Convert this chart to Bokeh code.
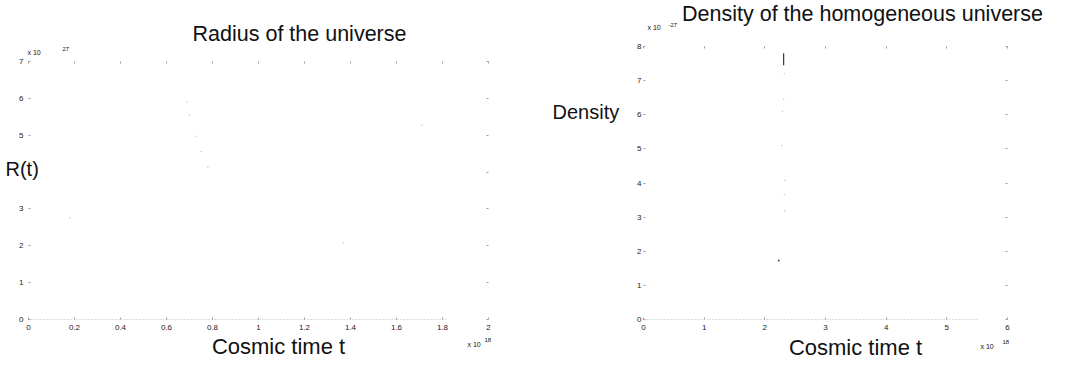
from bokeh.plotting import figure
from bokeh.layouts import row, column
from bokeh.models import Range1d, LinearAxis, Label, FixedTicker, Spacer
from bokeh.embed import file_html
from bokeh.resources import INLINE

# ---------- Radius plot (t in units of 1e18, R in units of 1e27) ----------
radius_xticks = [0, 0.2, 0.4, 0.6, 0.8, 1, 1.2, 1.4, 1.6, 1.8, 2]
radius_xlabels = ["0", "0.2", "0.4", "0.6", "0.8", "1", "1.2", "1.4", "1.6", "1.8", "2"]
radius_yticks = [0, 1, 2, 3, 4, 5, 6, 7]
radius_ylabels = ["0", "1", "2", "3", "", "5", "6", "7"]
radius_base_t = [0.0, 1.82]
radius_base_R = [0.0, 0.0]
radius_trace_t = [0.69, 0.70, 0.73, 0.75, 0.78, 0.18, 1.37, 1.71]
radius_trace_R = [5.9, 5.55, 4.97, 4.56, 4.13, 2.76, 2.08, 5.27]

# ---------- Density plot (t in units of 1e18, rho in units of 1e-27) ----------
density_xticks = [0, 1, 2, 3, 4, 5, 6]
density_xlabels = ["0", "1", "2", "3", "4", "5", "6"]
density_yticks = [0, 1, 2, 3, 4, 5, 6, 7, 8]
density_ylabels = ["0", "1", "2", "3", "4", "5", "6", "7", "8"]
density_base_t = [0.0, 5.5]
density_base_rho = [0.0, 0.0]
density_bar_t = [2.31, 2.31]
density_bar_rho = [7.45, 7.8]
density_trace_t = [2.32, 2.31, 2.29, 2.28, 2.33, 2.32, 2.33]
density_trace_rho = [7.2, 6.45, 6.1, 5.1, 4.07, 3.66, 3.19]
density_speck_t = [2.23]
density_speck_rho = [1.73]

FONT = "Liberation Sans"


def style_axes(p, xticks, xlabels, yticks, ylabels):
    for ax in p.xaxis:
        ax.ticker = FixedTicker(ticks=xticks)
        ax.major_label_overrides = {t: l for t, l in zip(xticks, xlabels)}
    for ax in p.yaxis:
        ax.ticker = FixedTicker(ticks=yticks)
        ax.major_label_overrides = {t: l for t, l in zip(yticks, ylabels)}
    for ax in list(p.xaxis) + list(p.yaxis):
        ax.axis_line_alpha = 0
        ax.major_tick_in = 2
        ax.major_tick_out = 0
        ax.major_tick_line_color = "#9a9a9a"
        ax.minor_tick_line_alpha = 0
        ax.major_label_text_font = FONT
        ax.major_label_text_font_size = "8px"
        ax.major_label_text_color = "#222222"


def add_frame_ticks(p, xticks, yticks):
    top = LinearAxis(ticker=FixedTicker(ticks=xticks))
    right = LinearAxis(ticker=FixedTicker(ticks=yticks))
    p.add_layout(top, "above")
    p.add_layout(right, "right")
    return top, right


def hide_labels(axes):
    for ax in axes:
        ax.major_label_text_alpha = 0
        ax.major_label_text_font_size = "1px"
        ax.major_label_standoff = 0


class Mapper:
    """Convert page pixel positions of the reference texts to data coordinates."""
    def __init__(self, p, fl, fr, ft, fb, x0, x1, y0, y1):
        self.p = p
        self.fl, self.fb = fl, fb
        self.sx = (x1 - x0) / (fr - fl)
        self.sy = (y1 - y0) / (fb - ft)
        self.x0, self.y0 = x0, y0

    def txt(self, side, px, py, s, size, align="left", color="#111111"):
        x = self.x0 + (px - self.fl) * self.sx
        y = self.y0 + (self.fb - py) * self.sy
        # Labels placed in a side panel are not clipped to the plot frame
        self.p.add_layout(Label(x=x, y=y, text=s, text_font=FONT, text_font_size=size,
                                text_align=align, text_baseline="middle",
                                text_color=color), side)


# ---------------- left figure ----------------
p1 = figure(width=530, height=352, output_backend="svg", toolbar_location=None,
            x_range=Range1d(0, 2), y_range=Range1d(0, 7),
            min_border_left=28, min_border_right=42, min_border_top=46, min_border_bottom=48)
p1.grid.visible = False
p1.outline_line_alpha = 0
p1.background_fill_color = "white"
p1.border_fill_color = "white"
t1, r1 = add_frame_ticks(p1, radius_xticks, radius_yticks)
style_axes(p1, radius_xticks, radius_xlabels, radius_yticks, radius_ylabels)
hide_labels([t1, r1])
p1.xaxis[0].major_label_standoff = 3
p1.yaxis[0].major_label_standoff = 5

p1.line(radius_base_t, radius_base_R, line_color="#7a7a7a", line_width=1, line_dash="1 2")
p1.scatter(radius_trace_t, radius_trace_R, size=1.6, color="#cccccc", line_alpha=0)

m1 = Mapper(p1, 28, 488, 61, 319, 0, 2, 0, 7)
m1.txt("above", 299, 33, "Radius of the universe", "21.5px", align="center")
m1.txt("above", 27, 52, "x 10", "7px")
m1.txt("above", 62, 48.5, "27", "6px")
m1.txt("right", 5, 168, "R(t)", "20px")
m1.txt("below", 278, 346, "Cosmic time t", "22px", align="center")
m1.txt("below", 467, 344, "x 10", "7px")
m1.txt("left", 484, 339, "18", "6px")

# ---------------- right figure ----------------
p2 = figure(width=536, height=367, output_backend="svg", toolbar_location=None,
            x_range=Range1d(0, 6), y_range=Range1d(0, 8),
            min_border_left=113, min_border_right=59, min_border_top=46, min_border_bottom=48)
p2.grid.visible = False
p2.outline_line_alpha = 0
p2.background_fill_color = "white"
p2.border_fill_color = "white"
t2, r2 = add_frame_ticks(p2, density_xticks, density_yticks)
style_axes(p2, density_xticks, density_xlabels, density_yticks, density_ylabels)
hide_labels([t2, r2])
p2.xaxis[0].major_label_standoff = 3
p2.yaxis[0].major_label_standoff = 2

p2.line(density_base_t, density_base_rho, line_color="#7a7a7a", line_width=1, line_dash="1 2")
p2.line(density_bar_t, density_bar_rho, line_color="#333333", line_width=1.2)
p2.scatter(density_trace_t, density_trace_rho, size=1.6, color="#cccccc", line_alpha=0)
p2.scatter(density_speck_t, density_speck_rho, size=2, color="#555555", line_alpha=0)

m2 = Mapper(p2, 643 - 530, 1007 - 530, 46, 319, 0, 6, 0, 8)
m2.txt("above", 862 - 530, 13, "Density of the homogeneous universe", "21.5px", align="center")
m2.txt("above", 647 - 530, 27, "x 10", "7px")
m2.txt("above", 668 - 530, 24, "-27", "6px")
m2.txt("left", 552 - 530, 111, "Density", "20px")
m2.txt("below", 855 - 530, 347, "Cosmic time t", "22px", align="center")
m2.txt("right", 980 - 530, 345.5, "x 10", "7px")
m2.txt("right", 1002 - 530, 341.5, "18", "6px")

layout = row(column(Spacer(width=530, height=15), p1), p2)
open("out.html", "w").write(file_html(layout, INLINE))
